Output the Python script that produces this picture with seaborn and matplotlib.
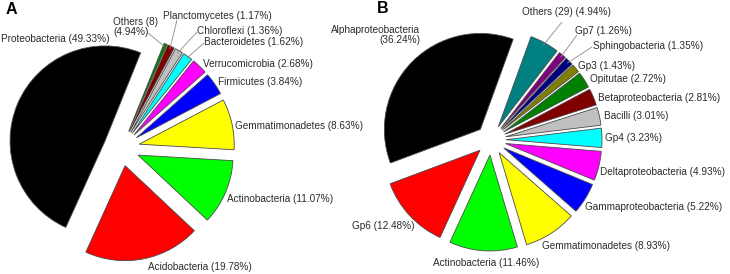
import numpy as np
import matplotlib
matplotlib.use("Agg")
import matplotlib.pyplot as plt
import seaborn as sns

# ---------------- data ----------------
# Panel A (phylum level), clockwise from the top
a_taxa = ["Others", "Planctomycetes", "Chloroflexi", "Bacteroidetes", "Verrucomicrobia",
          "Firmicutes", "Gemmatimonadetes", "Actinobacteria", "Acidobacteria", "Proteobacteria"]
a_values = [0.52, 1.17, 1.36, 1.62, 2.68, 3.84, 8.63, 11.07, 19.78, 49.33]
a_labels = ["Others (8)\n(4.94%)", "Planctomycetes (1.17%)", "Chloroflexi (1.36%)",
            "Bacteroidetes (1.62%)", "Verrucomicrobia (2.68%)", "Firmicutes (3.84%)",
            "Gemmatimonadetes (8.63%)", "Actinobacteria (11.07%)", "Acidobacteria (19.78%)",
            "Proteobacteria (49.33%)"]
a_colors = ["#008000", "#800000", "#C0C0C0", "#00FFFF", "#FF00FF",
            "#0000FF", "#FFFF00", "#00FF00", "#FF0000", "#000000"]

# Panel B (class level), clockwise from the top
b_taxa = ["Others", "Gp7", "Sphingobacteria", "Gp3", "Opitutae", "Betaproteobacteria",
          "Bacilli", "Gp4", "Deltaproteobacteria", "Gammaproteobacteria",
          "Gemmatimonadetes", "Actinobacteria", "Gp6", "Alphaproteobacteria"]
b_values = [4.94, 1.26, 1.35, 1.43, 2.72, 2.81, 3.01, 3.23, 4.93, 5.22, 8.93, 11.46, 12.48, 36.24]
b_labels = ["Others (29) (4.94%)", "Gp7 (1.26%)", "Sphingobacteria (1.35%)", "Gp3 (1.43%)",
            "Opitutae (2.72%)", "Betaproteobacteria (2.81%)", "Bacilli (3.01%)", "Gp4 (3.23%)",
            "Deltaproteobacteria (4.93%)", "Gammaproteobacteria (5.22%)",
            "Gemmatimonadetes (8.93%)", "Actinobacteria (11.46%)", "Gp6 (12.48%)",
            "Alphaproteobacteria\n(36.24%)"]
b_colors = ["#008080", "#800080", "#000080", "#808000", "#008000", "#800000",
            "#C0C0C0", "#00FFFF", "#FF00FF", "#0000FF", "#FFFF00", "#00FF00",
            "#FF0000", "#000000"]

# ---------------- layout (pixel coords, y measured from top) ----------------
W, H = 730, 274
A_CENTER, A_R, A_EXPLODE, A_START = (121.6, 148), 95, 18, 68
B_CENTER, B_R, B_EXPLODE, B_START = (491, 140), 96, 15, 70

# label placement: (x, y, ha, leader-line start or None)
a_pos = [(113, 27, "left", (148, 33)), (163, 16, "left", (177, 20)),
         (197, 31, "left", (197, 32)), (204, 42, "left", (204, 43)),
         (203, 64, "left", None), (218, 82, "left", None),
         (235, 126, "left", None), (227, 199, "left", None),
         (148, 267, "left", None), (1, 39, "left", None)]
b_pos = [(522, 12, "left", (562, 22)), (575, 31, "left", (577, 35)),
         (593, 46, "left", (592, 47)), (578, 66, "left", None),
         (590, 79, "left", None), (598, 98, "left", None),
         (604, 116, "left", None), (605, 138, "left", None),
         (600, 172, "left", None), (585, 207, "left", None),
         (542, 246, "left", None), (433, 263, "left", None),
         (415, 226, "right", None), (420, 35, "right", None)]

sns.set_theme(style="white")
plt.rcParams["font.family"] = ["Liberation Sans", "DejaVu Sans"]

fig = plt.figure(figsize=(W / 100, H / 100), dpi=100)
ax = fig.add_axes([0, 0, 1, 1])


def fy(y):
    return H - y


def draw(values, colors, labels, pos, center, r, explode, start):
    wedges, _ = ax.pie(values, colors=colors, startangle=start, counterclock=False,
                       radius=r, center=(center[0], fy(center[1])),
                       explode=[explode] * len(values), frame=True,
                       wedgeprops=dict(edgecolor="#4a4a4a", linewidth=0.6))
    for w, lab, (x, y, ha, lead) in zip(wedges, labels, pos):
        ax.text(x, fy(y), lab, ha=ha, va="center", fontsize=7.2, color="#2b2b2b",
                multialignment=ha, linespacing=1.1)
        if lead is not None:
            mid = np.deg2rad((w.theta1 + w.theta2) / 2)
            px = w.center[0] + 0.97 * w.r * np.cos(mid)
            py = w.center[1] + 0.97 * w.r * np.sin(mid)
            ax.plot([lead[0], px], [fy(lead[1]), py], color="#8a8a8a", lw=0.6,
                    solid_capstyle="butt")


draw(a_values, a_colors, a_labels, a_pos, A_CENTER, A_R, A_EXPLODE, A_START)
draw(b_values, b_colors, b_labels, b_pos, B_CENTER, B_R, B_EXPLODE, B_START)

ax.text(6, fy(13.5), "A", fontsize=11.5, fontweight="bold", color="black", va="baseline")
ax.text(377, fy(13), "B", fontsize=11.5, fontweight="bold", color="black", va="baseline")

ax.set_xlim(0, W)
ax.set_ylim(0, H)
ax.set_aspect("equal")
ax.axis("off")
fig.savefig("out.png", dpi=100, facecolor="white")
